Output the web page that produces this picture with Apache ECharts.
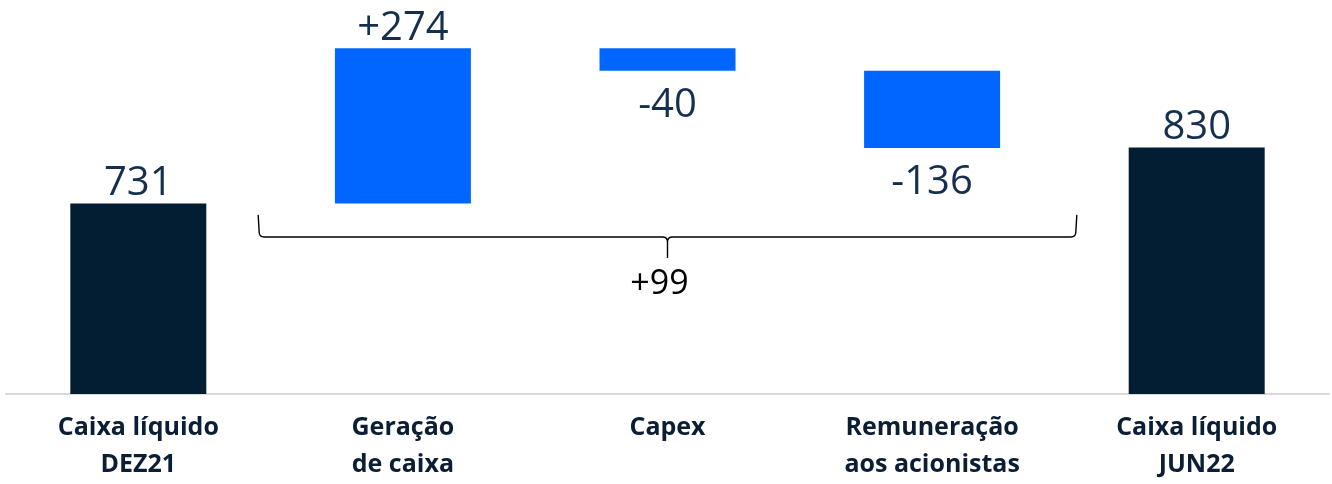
<!DOCTYPE html>
<html>
<head>
<meta charset="utf-8">
<script src="https://cdn.jsdelivr.net/npm/echarts@6/dist/echarts.min.js"></script>
<style>
  html, body { margin: 0; padding: 0; background: #fff; }
  #chart { width: 1332px; height: 484px; }
</style>
</head>
<body>
<div id="chart"></div>
<script>
// ---- data ----
const categories = ['Caixa líquido\nDEZ21', 'Geração\nde caixa', 'Capex', 'Remuneração\naos acionistas', 'Caixa líquido\nJUN22'];
const changes = [731, 274, -40, -136, 830];
const isTotal = [true, false, false, false, true];
const valueLabels = ['731', '+274', '-40', '-136', '830'];
const braceText = '+99';
const braceCenter = 2;          // category index at brace centre
const braceHalfSpan = 1.547;    // in category bands
const braceLevels = [711, 672, 635, 588]; // ends, line, tip, label (value units)

// ---- waterfall computation ----
const baseData = [];
const barData = [];
let running = 0;
changes.forEach((v, i) => {
  if (isTotal[i]) {
    baseData.push(0);
    barData.push(v);
    running = v;
  } else if (v >= 0) {
    baseData.push(running);
    barData.push(v);
    running += v;
  } else {
    running += v;
    baseData.push(running);
    barData.push(-v);
  }
});

const NAVY = '#031d33';
const BLUE = '#0066ff';
const LABEL = '#15304f';

const chart = echarts.init(document.getElementById('chart'), null, { renderer: 'canvas' });
chart.setOption({
  animation: false,
  backgroundColor: '#ffffff',
  grid: { left: 6, right: 3, top: 0, bottom: 90, containLabel: false },
  xAxis: {
    type: 'category',
    data: categories,
    axisLine: { show: true, lineStyle: { color: '#d9d9d9', width: 2 } },
    axisTick: { show: false },
    axisLabel: {
      interval: 0,
      margin: 15,
      color: '#0b1e33',
      fontFamily: 'Open Sans',
      fontWeight: 'bold',
      fontSize: 25,
      lineHeight: 37
    }
  },
  yAxis: {
    type: 'value',
    min: 395,
    max: 1090,
    show: false,
    splitLine: { show: false }
  },
  series: [
    {
      type: 'bar',
      stack: 'wf',
      barWidth: 136,
      silent: true,
      itemStyle: { color: 'transparent' },
      data: baseData
    },
    {
      type: 'bar',
      stack: 'wf',
      barWidth: 136,
      data: barData.map((v, i) => {
        const neg = !isTotal[i] && changes[i] < 0;
        return {
          value: v,
          itemStyle: { color: isTotal[i] ? NAVY : BLUE },
          label: {
            show: true,
            position: neg ? 'bottom' : 'top',
            distance: neg ? 15 : 0,
            formatter: valueLabels[i],
            color: LABEL,
            fontFamily: 'Open Sans',
            fontWeight: 400,
            fontSize: 40
          }
        };
      })
    },
    {
      type: 'custom',
      silent: true,
      data: [[braceCenter, braceLevels[1]]],
      z: 5,
      renderItem: function (params, api) {
        const c = api.coord([braceCenter, braceLevels[1]]);
        const band = api.size([1, 0])[0];
        const half = braceHalfSpan * band;
        const yTop = api.coord([braceCenter, braceLevels[0]])[1];
        const yLine = c[1];
        const yTip = api.coord([braceCenter, braceLevels[2]])[1];
        const yLab = api.coord([braceCenter, braceLevels[3]])[1];
        const xc = c[0], xL = xc - half, xR = xc + half;
        const r = 5;
        const d = 'M' + xL + ' ' + yTop +
          ' L' + (xL + 1) + ' ' + (yLine - r) +
          ' Q' + (xL + 1) + ' ' + yLine + ' ' + (xL + 1 + r) + ' ' + yLine +
          ' L' + (xc - r) + ' ' + yLine +
          ' Q' + xc + ' ' + yLine + ' ' + xc + ' ' + (yLine + r) +
          ' L' + xc + ' ' + yTip +
          ' M' + xc + ' ' + (yLine + r) +
          ' Q' + xc + ' ' + yLine + ' ' + (xc + r) + ' ' + yLine +
          ' L' + (xR - 1 - r) + ' ' + yLine +
          ' Q' + (xR - 1) + ' ' + yLine + ' ' + (xR - 1) + ' ' + (yLine - r) +
          ' L' + xR + ' ' + yTop;
        return {
          type: 'group',
          children: [
            {
              type: 'path',
              shape: { pathData: d },
              style: { stroke: '#000000', fill: null, lineWidth: 1.4 }
            },
            {
              type: 'text',
              x: xc - 8,
              y: yLab,
              style: {
                text: braceText,
                fill: '#000000',
                fontFamily: 'Open Sans',
                fontSize: 34,
                align: 'center',
                verticalAlign: 'middle'
              }
            }
          ]
        };
      }
    }
  ]
});
</script>
</body>
</html>
